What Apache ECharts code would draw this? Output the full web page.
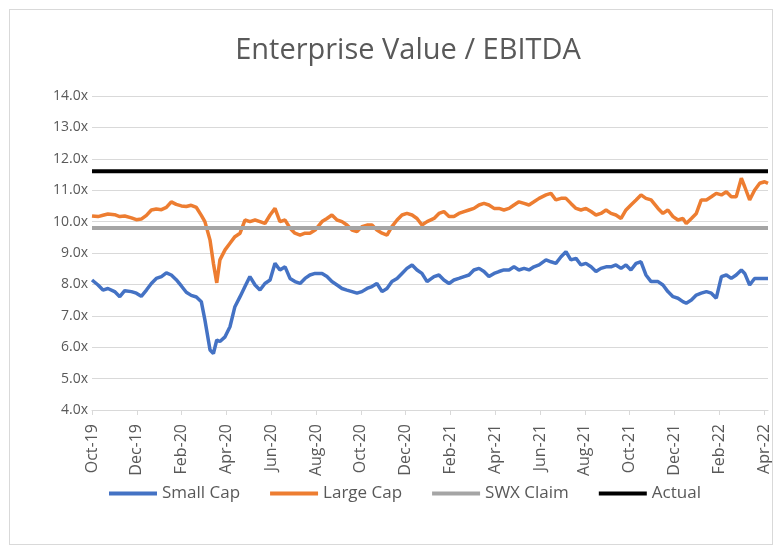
<!DOCTYPE html>
<html>
<head>
<meta charset="utf-8">
<script src="https://cdn.jsdelivr.net/npm/echarts@6/dist/echarts.min.js"></script>
<style>
  html, body { margin: 0; padding: 0; background: #fff; }
  #chart { width: 781px; height: 550px; }
  #frame { position: absolute; left: 9px; top: 9px; width: 762px; height: 534px; border: 1px solid #d9d9d9; pointer-events: none; }
</style>
</head>
<body>
<div id="chart"></div>
<div id="frame"></div>
<script>
// x position = months since 1 Oct 2019
const months = [
  0, 0.27, 0.49, 0.71, 1.01, 1.24, 1.46, 1.76, 1.98, 2.20, 2.43, 2.65, 2.87, 3.10, 3.32, 3.54, 3.76, 3.99, 4.21, 4.43, 4.66, 4.88,
  5.04, 5.27, 5.42, 5.57, 5.71, 5.94, 6.16, 6.38, 6.61, 6.83, 7.05, 7.28, 7.50, 7.72, 7.95, 8.17, 8.39, 8.62, 8.84, 9.06, 9.29, 9.51, 9.73, 9.96,
  10.27, 10.49, 10.71, 10.94, 11.16, 11.38, 11.61, 11.83, 12.05, 12.28, 12.50, 12.72, 12.95, 13.17, 13.39, 13.62, 13.84, 14.06, 14.29, 14.51, 14.73, 14.96,
  15.27, 15.49, 15.71, 15.94, 16.16, 16.38, 16.61, 16.83, 17.05, 17.28, 17.50, 17.72, 17.95, 18.17, 18.39, 18.62, 18.84, 19.06, 19.29, 19.51, 19.73, 19.96,
  20.27, 20.49, 20.71, 20.94, 21.16, 21.38, 21.61, 21.83, 22.05, 22.28, 22.50, 22.72, 22.95, 23.17, 23.39, 23.62, 23.84, 24.06, 24.29, 24.51, 24.73, 24.96,
  25.27, 25.49, 25.71, 25.94, 26.16, 26.38, 26.53, 26.76, 26.98, 27.20, 27.43, 27.65, 27.87, 28.10, 28.32, 28.54, 28.76, 28.99, 29.14, 29.36, 29.58, 29.81, 30.03, 30.18
]

const smallCap = [
  8.14, 7.98, 7.82, 7.87, 7.77, 7.61, 7.80, 7.77, 7.72, 7.62, 7.82, 8.03, 8.19, 8.25, 8.37, 8.30, 8.15, 7.95, 7.75, 7.65, 7.60, 7.45,
  6.87, 5.91, 5.80, 6.23, 6.18, 6.33, 6.65, 7.29, 7.61, 7.93, 8.25, 7.98, 7.82, 8.03, 8.14, 8.67, 8.46, 8.56, 8.19, 8.09, 8.03, 8.19, 8.30, 8.35,
  8.35, 8.25, 8.09, 7.98, 7.87, 7.82, 7.77, 7.72, 7.77, 7.87, 7.93, 8.03, 7.77, 7.87, 8.09, 8.19, 8.35, 8.51, 8.62, 8.46, 8.35, 8.09,
  8.25, 8.30, 8.14, 8.03, 8.14, 8.19, 8.25, 8.30, 8.46, 8.51, 8.41, 8.25, 8.35, 8.41, 8.46, 8.46, 8.56, 8.46, 8.51, 8.46, 8.56, 8.62,
  8.78, 8.72, 8.67, 8.88, 9.04, 8.78, 8.83, 8.62, 8.67, 8.56, 8.41, 8.51, 8.56, 8.56, 8.62, 8.51, 8.62, 8.46, 8.67, 8.72, 8.30, 8.09,
  8.09, 7.98, 7.77, 7.61, 7.56, 7.45, 7.40, 7.50, 7.66, 7.72, 7.77, 7.72, 7.56, 8.25, 8.30, 8.19, 8.30, 8.46, 8.35, 7.98, 8.19, 8.19, 8.19, 8.19
]

const largeCap = [
  10.18, 10.16, 10.20, 10.24, 10.22, 10.16, 10.18, 10.12, 10.06, 10.08, 10.20, 10.37, 10.40, 10.38, 10.45, 10.63, 10.55, 10.50, 10.48, 10.52, 10.45, 10.20,
  10.00, 9.41, 8.67, 8.05, 8.78, 9.10, 9.31, 9.52, 9.63, 10.05, 10.00, 10.05, 10.00, 9.94, 10.21, 10.42, 10.00, 10.05, 9.79, 9.63, 9.57, 9.63, 9.63, 9.73,
  10.00, 10.10, 10.21, 10.05, 10.00, 9.89, 9.73, 9.68, 9.84, 9.89, 9.89, 9.73, 9.63, 9.57, 9.84, 10.05, 10.21, 10.26, 10.21, 10.10, 9.89, 10.00,
  10.10, 10.26, 10.32, 10.16, 10.16, 10.26, 10.32, 10.37, 10.42, 10.53, 10.58, 10.53, 10.42, 10.42, 10.37, 10.42, 10.53, 10.63, 10.58, 10.53, 10.63, 10.74,
  10.85, 10.90, 10.69, 10.74, 10.74, 10.58, 10.42, 10.37, 10.42, 10.32, 10.21, 10.26, 10.37, 10.26, 10.21, 10.10, 10.37, 10.53, 10.69, 10.85, 10.74, 10.69,
  10.42, 10.26, 10.37, 10.16, 10.05, 10.10, 9.94, 10.10, 10.26, 10.69, 10.69, 10.79, 10.90, 10.85, 10.95, 10.79, 10.79, 11.38, 11.11, 10.69, 11.00, 11.22, 11.27, 11.22
]

const swxClaim = 9.8
const actual = 11.6

const tickLabels = ['Oct-19', 'Dec-19', 'Feb-20', 'Apr-20', 'Jun-20', 'Aug-20', 'Oct-20', 'Dec-20',
  'Feb-21', 'Apr-21', 'Jun-21', 'Aug-21', 'Oct-21', 'Dec-21', 'Feb-22', 'Apr-22']

const xEnd = months[months.length - 1]
const font = 'Open Sans'

const myChart = echarts.init(document.getElementById('chart'))

const option = {
  animation: false,
  title: {
    text: 'Enterprise Value / EBITDA',
    left: 403,
    textAlign: 'center',
    top: 31,
    textStyle: { fontFamily: font, fontSize: 29, fontWeight: 'normal', color: '#595959' },
  },
  legend: {
    data: ['Small Cap', 'Large Cap', 'SWX Claim', 'Actual'],
    icon: 'rect',
    left: 104,
    top: 479,
    itemWidth: 48,
    itemHeight: 4,
    itemGap: 30,
    textStyle: { fontFamily: font, fontSize: 17, color: '#595959', lineHeight: 19 },
  },
  grid: { left: 92, right: 13, top: 96, bottom: 140 },
  xAxis: {
    type: 'value',
    min: 0,
    max: xEnd,
    interval: 2,
    axisLine: { lineStyle: { color: '#d9d9d9' } },
    axisTick: { show: true, length: 5, lineStyle: { color: '#d9d9d9' } },
    splitLine: { show: false },
    axisLabel: {
      rotate: 90,
      margin: 14,
      fontFamily: font,
      fontSize: 16,
      color: '#595959',
      showMaxLabel: false,
      formatter: (v) => {
        const i = Math.round(v / 2)
        if (Math.abs(v - i * 2) > 1e-6) return ''
        return tickLabels[i] || ''
      },
    },
  },
  yAxis: {
    type: 'value',
    min: 4,
    max: 14,
    interval: 1,
    axisLine: { show: false },
    axisTick: { show: false },
    splitLine: { lineStyle: { color: '#d9d9d9', width: 1 } },
    axisLabel: {
      margin: 4,
      fontFamily: font,
      fontSize: 14,
      color: '#595959',
      formatter: (v) => v.toFixed(1) + 'x',
    },
  },
  series: [
    {
      name: 'Small Cap',
      type: 'line',
      symbol: 'none',
      data: months.map((m, i) => [m, smallCap[i]]),
      lineStyle: { color: '#4472C4', width: 3.5 },
      itemStyle: { color: '#4472C4' },
    },
    {
      name: 'Large Cap',
      type: 'line',
      symbol: 'none',
      data: months.map((m, i) => [m, largeCap[i]]),
      lineStyle: { color: '#ED7D31', width: 3.5 },
      itemStyle: { color: '#ED7D31' },
    },
    {
      name: 'SWX Claim',
      type: 'line',
      symbol: 'none',
      data: [[0, swxClaim], [xEnd, swxClaim]],
      lineStyle: { color: '#A5A5A5', width: 4 },
      itemStyle: { color: '#A5A5A5' },
    },
    {
      name: 'Actual',
      type: 'line',
      symbol: 'none',
      data: [[0, actual], [xEnd, actual]],
      lineStyle: { color: '#000000', width: 4 },
      itemStyle: { color: '#000000' },
    },
  ],
}

myChart.setOption(option)
</script>
</body>
</html>
